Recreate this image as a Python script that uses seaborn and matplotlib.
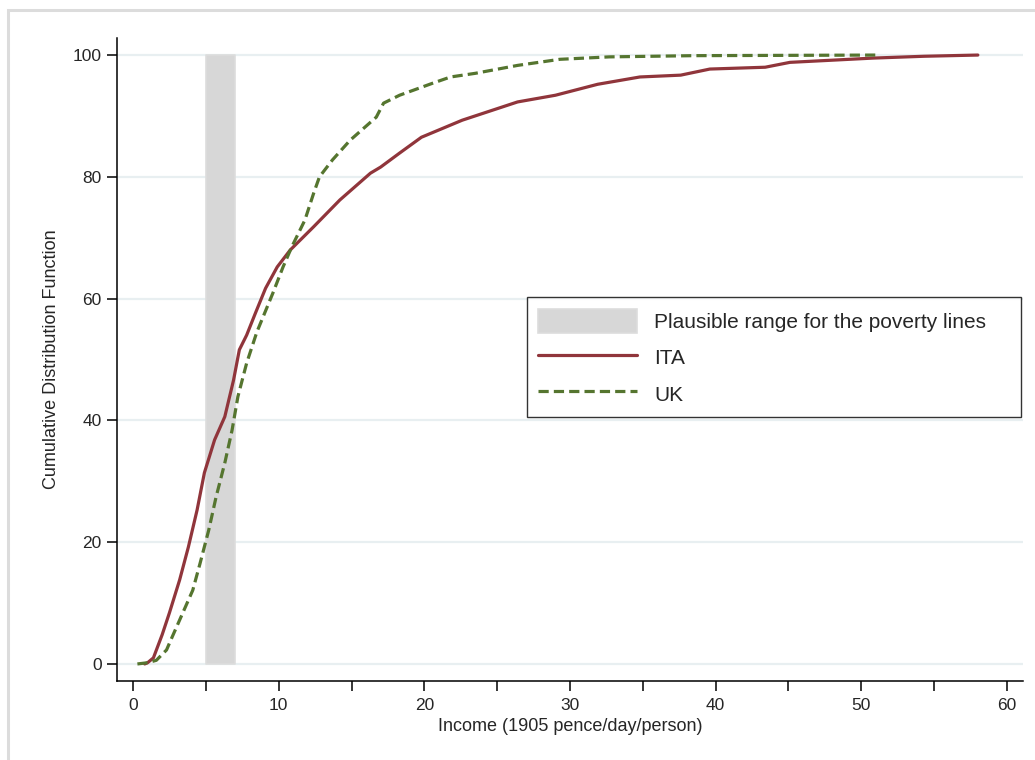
import numpy as np
import pandas as pd
import seaborn as sns
import matplotlib.pyplot as plt
from matplotlib.patches import Patch, Rectangle
from matplotlib.lines import Line2D

# income (1905 pence/day/person) and cumulative share (%)
ita_income = [0.8, 1.0, 1.4, 2.0, 2.5, 3.2, 3.8, 4.4, 4.9, 5.6, 6.3, 6.9, 7.3, 7.8,
              8.4, 9.1, 9.9, 10.8, 12.4, 14.2, 16.3, 17.0, 18.3, 19.8, 22.6, 26.4,
              29.0, 31.9, 34.8, 37.6, 39.6, 43.4, 45.1, 50.8, 54.3, 58.0]
ita_cdf = [0.0, 0.2, 1.0, 4.8, 8.4, 13.8, 19.2, 25.3, 31.4, 36.8, 40.6, 46.6, 51.6, 54.0,
           57.6, 61.7, 65.2, 68.0, 71.8, 76.2, 80.6, 81.6, 83.9, 86.5, 89.3, 92.3,
           93.4, 95.2, 96.4, 96.7, 97.7, 98.0, 98.8, 99.5, 99.8, 100.0]

uk_income = [0.3, 1.0, 1.6, 2.3, 2.7, 3.4, 4.1, 4.6, 5.2, 5.7, 6.3, 6.8, 7.2, 7.8,
             8.5, 9.6, 10.3, 10.9, 11.8, 12.4, 12.8, 13.7, 14.9, 16.7, 17.2, 18.3,
             20.6, 21.8, 23.5, 26.4, 29.3, 32.7, 38.5, 51.3]
uk_cdf = [0.0, 0.2, 0.6, 2.3, 4.5, 8.3, 12.1, 16.5, 22.0, 27.4, 33.0, 38.4, 43.9, 49.4,
          54.5, 60.9, 65.2, 68.5, 72.9, 77.3, 80.0, 82.8, 86.0, 89.8, 92.1, 93.4,
          95.4, 96.4, 97.0, 98.3, 99.3, 99.7, 99.9, 100.0]

# plausible range for the poverty lines
pov_low, pov_high = 5, 7

ita_col = '#90353B'
uk_col = '#55752F'
band_col = '#D7D7D7'

sns.set_style('white')
plt.rcParams['font.family'] = ['Liberation Sans', 'DejaVu Sans']

fig = plt.figure(figsize=(10.35, 7.6), dpi=100)
ax = fig.add_axes([117/1035, 79/760, 906/1035, 643/760])

# light frame round the graph region
fig.patches.append(Rectangle((8/1035, -0.05), 1.1, 1 - 10/760 + 0.05, transform=fig.transFigure,
                             fill=False, edgecolor='#DCDCDC', lw=2.2, zorder=0))

for yv in range(0, 101, 20):
    ax.axhline(yv, color='#E8EFF1', lw=1.6, zorder=0)

ax.fill_between([pov_low, pov_high], 0, 100, color=band_col, edgecolor='#DDDDDD', lw=1.2, zorder=1)

df_ita = pd.DataFrame({'income': ita_income, 'cdf': ita_cdf})
df_uk = pd.DataFrame({'income': uk_income, 'cdf': uk_cdf})
sns.lineplot(data=df_ita, x='income', y='cdf', ax=ax, color=ita_col, lw=2.3, sort=False, zorder=3)
sns.lineplot(data=df_uk, x='income', y='cdf', ax=ax, color=uk_col, lw=2.3, sort=False,
             zorder=4, dashes=False)
ax.lines[-1].set_dashes((3.2, 1.6))

ax.set_xlim(-1.1, 61.1)
ax.set_ylim(-2.8, 102.8)
ax.set_xticks(range(0, 61, 10))
ax.set_xticks(range(5, 60, 10), minor=True)
ax.set_yticks(range(0, 101, 20))
ax.tick_params(axis='both', which='both', direction='out', length=7, width=1.1,
               color='black', labelsize=12.5, bottom=True, left=True)
ax.tick_params(axis='x', pad=5)
ax.tick_params(axis='y', pad=4)
for s in ['top', 'right']:
    ax.spines[s].set_visible(False)
for s in ['left', 'bottom']:
    ax.spines[s].set_color('black')
    ax.spines[s].set_linewidth(1.1)

ax.set_xlabel('Income (1905 pence/day/person)', fontsize=13, labelpad=4)
ax.set_ylabel('Cumulative Distribution Function', fontsize=13, labelpad=9)

handles = [Patch(facecolor=band_col, edgecolor='#DDDDDD', lw=1.2),
           Line2D([], [], color=ita_col, lw=2.3),
           Line2D([], [], color=uk_col, lw=2.3, dashes=(3.2, 1.6))]
labels = ['Plausible range for the poverty lines    ', 'ITA', 'UK']
leg = ax.legend(handles, labels, loc='upper left', bbox_to_anchor=(0.4525, 0.597),
                frameon=True, fancybox=False, edgecolor='black', fontsize=15,
                handlelength=4.75, handleheight=1.4, handletextpad=0.8,
                labelspacing=0.6, borderpad=0.55, borderaxespad=0)
leg.get_frame().set_linewidth(1.0)

fig.savefig('out.png', dpi=100)
